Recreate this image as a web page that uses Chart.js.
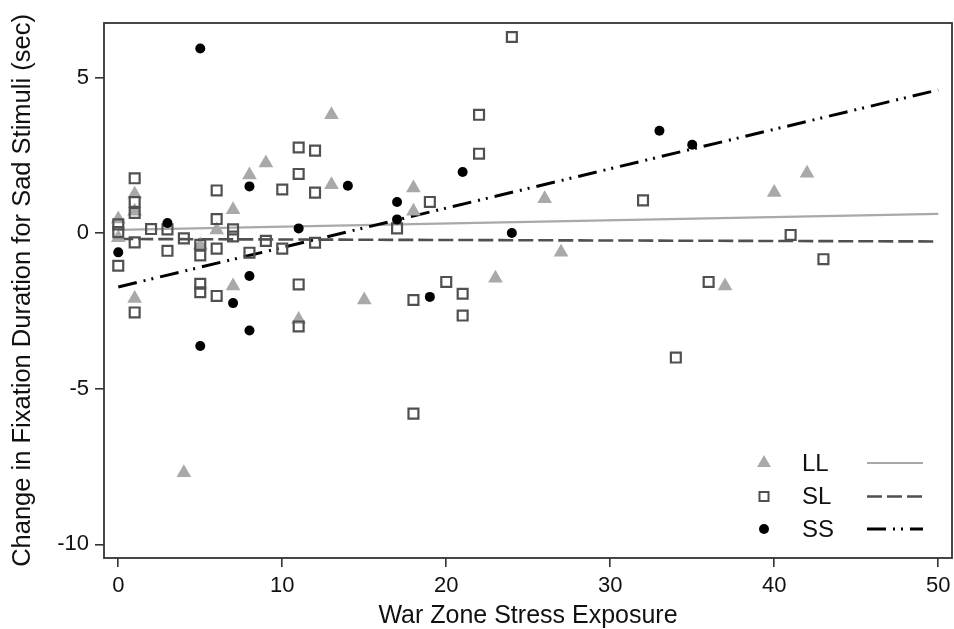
<!DOCTYPE html>
<html>
<head>
<meta charset="utf-8">
<script src="https://cdn.jsdelivr.net/npm/chart.js@4/dist/chart.umd.min.js"></script>
<style>
html,body{margin:0;padding:0;background:#fff;}
canvas{display:block;}
</style>
</head>
<body>
<canvas id="c" width="954" height="629"></canvas>
<script>
// ---- data ----
const seriesNames = ["LL", "SL", "SS"];
const xTicks = [0, 10, 20, 30, 40, 50];
const yTicks = [-10, -5, 0, 5];
const xTitle = "War Zone Stress Exposure";
const yTitle = "Change in Fixation Duration for Sad Stimuli (sec)";

const llX = [0, 0, 1, 1, 1, 4, 5, 6, 7, 7, 8, 9, 11, 13, 13, 15, 18, 18, 23, 26, 27, 37, 40, 42];
const llY = [0.45, -0.15, 1.25, 0.7, -2.1, -7.7, -0.38, 0.1, 0.75, -1.7, 1.87, 2.25, -2.78, 3.8, 1.55, -2.15, 1.45, 0.7, -1.45, 1.1, -0.62, -1.7, 1.3, 1.92];

const slX = [0, 0, 0, 1, 1, 1, 1, 1, 2, 3, 3, 4, 5, 5, 5, 5, 6, 6, 6, 6, 7, 7, 8, 9, 10, 10, 11, 11, 11, 11, 12, 12, 12, 17, 18, 18, 19, 20, 21, 21, 22, 22, 24, 32, 34, 36, 41, 43];
const slY = [0.28, 0.03, -1.05, 1.76, 1.0, 0.65, -0.3, -2.55, 0.13, 0.12, -0.57, -0.17, -0.38, -0.72, -1.63, -1.9, 1.37, 0.45, -0.5, -2.02, 0.12, -0.11, -0.63, -0.25, 1.4, -0.5, 2.75, 1.9, -1.65, -3.0, 2.65, 1.3, -0.31, 0.15, -2.15, -5.8, 1.0, -1.57, -1.95, -2.65, 3.8, 2.55, 6.3, 1.05, -4.0, -1.57, -0.06, -0.84];

const ssX = [0, 3, 5, 5, 7, 8, 8, 8, 11, 14, 17, 17, 19, 21, 24, 33, 35];
const ssY = [-0.62, 0.32, 5.93, -3.63, -2.25, 1.5, -1.38, -3.13, 0.15, 1.52, 1.0, 0.44, -2.05, 1.96, 0.0, 3.29, 2.84];

// fitted lines (values at the ends of the x range)
const fitX = [0, 50];
const llFit = [0.10, 0.62];
const slFit = [-0.19, -0.27];
const ssFit = [-1.73, 4.60];

// ---- styles ----
const C_LL = "#a9a9a9", C_SL = "#505050", C_SS = "#000000";
const toPts = (xs, ys) => xs.map((x, i) => ({x: x, y: ys[i]}));
const FONT = "'Liberation Sans', Arial, sans-serif";

const boxPlugin = {
  id: "box",
  afterDraw(chart) {
    const a = chart.chartArea, ctx = chart.ctx;
    ctx.save();
    ctx.strokeStyle = "#333";
    ctx.lineWidth = 1.8;
    ctx.strokeRect(a.left, a.top, a.right - a.left, a.bottom - a.top);
    ctx.restore();
  }
};

const legendPlugin = {
  id: "customLegend",
  afterDraw(chart) {
    const a = chart.chartArea, ctx = chart.ctx;
    const rows = [a.bottom - 95, a.bottom - 61.5, a.bottom - 29];
    const mx = a.right - 188, tx = a.right - 150, l0 = a.right - 85, l1 = a.right - 29;
    ctx.save();
    ctx.textBaseline = "middle";
    ctx.textAlign = "left";
    // LL marker: triangle
    let y = rows[0];
    ctx.fillStyle = C_LL;
    ctx.beginPath();
    const r = 8;
    ctx.moveTo(mx, y - r);
    ctx.lineTo(mx + r * Math.sqrt(3) / 2, y + r / 2);
    ctx.lineTo(mx - r * Math.sqrt(3) / 2, y + r / 2);
    ctx.closePath();
    ctx.fill();
    // SL marker: open square
    y = rows[1];
    ctx.strokeStyle = C_SL;
    ctx.lineWidth = 2;
    ctx.strokeRect(mx - 4.5, y - 4.5, 9, 9);
    // SS marker: filled circle
    y = rows[2];
    ctx.fillStyle = C_SS;
    ctx.beginPath();
    ctx.arc(mx, y, 5, 0, Math.PI * 2);
    ctx.fill();
    // labels
    ctx.font = "24px " + FONT;
    ctx.fillStyle = "#111";
    seriesNames.forEach((n, i) => ctx.fillText(n, tx, rows[i] + 1));
    // line samples
    const ls = [
      {c: C_LL, w: 2.2, d: []},
      {c: C_SL, w: 2.6, d: [15, 5]},
      {c: C_SS, w: 3, d: [19, 7, 2, 6, 2, 7]}
    ];
    ls.forEach((s, i) => {
      ctx.strokeStyle = s.c; ctx.lineWidth = s.w; ctx.setLineDash(s.d);
      ctx.beginPath(); ctx.moveTo(l0, rows[i]); ctx.lineTo(l1, rows[i]); ctx.stroke();
    });
    ctx.restore();
  }
};

new Chart(document.getElementById("c"), {
  type: "scatter",
  data: {
    datasets: [
      {label: seriesNames[0] + " fit", type: "line", data: toPts(fitX, llFit), showLine: true, pointRadius: 0,
       borderColor: C_LL, borderWidth: 2.2, fill: false, order: 5},
      {label: seriesNames[1] + " fit", type: "line", data: toPts(fitX, slFit), showLine: true, pointRadius: 0,
       borderColor: C_SL, borderWidth: 2.6, borderDash: [15, 5], fill: false, order: 4},
      {label: seriesNames[2] + " fit", type: "line", data: toPts(fitX, ssFit), showLine: true, pointRadius: 0,
       borderColor: C_SS, borderWidth: 3, borderDash: [19, 7, 2, 6, 2, 7], fill: false, order: 3},
      {label: seriesNames[0], data: toPts(llX, llY), pointStyle: "triangle", pointRadius: 8.5,
       backgroundColor: C_LL, borderColor: C_LL, borderWidth: 0, order: 2},
      {label: seriesNames[1], data: toPts(slX, slY), pointStyle: "rect", pointRadius: 7,
       backgroundColor: "rgba(0,0,0,0)", borderColor: C_SL, borderWidth: 2.2, order: 1},
      {label: seriesNames[2], data: toPts(ssX, ssY), pointStyle: "circle", pointRadius: 5,
       backgroundColor: C_SS, borderColor: C_SS, borderWidth: 0, order: 0}
    ]
  },
  options: {
    responsive: false,
    animation: false,
    layout: {autoPadding: false, padding: {top: 23, right: 2, left: 0, bottom: 0}},
    plugins: {legend: {display: false}, tooltip: {enabled: false}},
    scales: {
      x: {
        type: "linear", min: -0.87, max: 50.84,
        afterBuildTicks: s => { s.ticks = xTicks.map(v => ({value: v})); },
        afterFit: s => { s.height = 71; s.paddingLeft = 0; s.paddingRight = 0; },
        ticks: {font: {size: 22, family: FONT}, color: "#111", padding: 6, maxRotation: 0},
        grid: {drawOnChartArea: false, drawTicks: true, tickLength: 9, color: "#333", lineWidth: 1.6},
        border: {display: false},
        title: {display: true, text: xTitle, font: {size: 25, family: FONT, lineHeight: 1}, color: "#111",
                padding: {top: 0, bottom: 0}}
      },
      y: {
        type: "linear", min: -10.44, max: 6.75,
        afterBuildTicks: s => { s.ticks = yTicks.map(v => ({value: v})); },
        afterFit: s => { s.width = 104; s.paddingTop = 0; s.paddingBottom = 0; },
        ticks: {font: {size: 22, family: FONT}, color: "#111", padding: 6},
        grid: {drawOnChartArea: false, drawTicks: true, tickLength: 9, color: "#333", lineWidth: 1.6},
        border: {display: false},
        title: {display: true, text: yTitle, font: {size: 25.5, family: FONT, lineHeight: 1}, color: "#111",
                padding: {top: 10, bottom: 0}}
      }
    }
  },
  plugins: [boxPlugin, legendPlugin]
});
</script>
</body>
</html>
